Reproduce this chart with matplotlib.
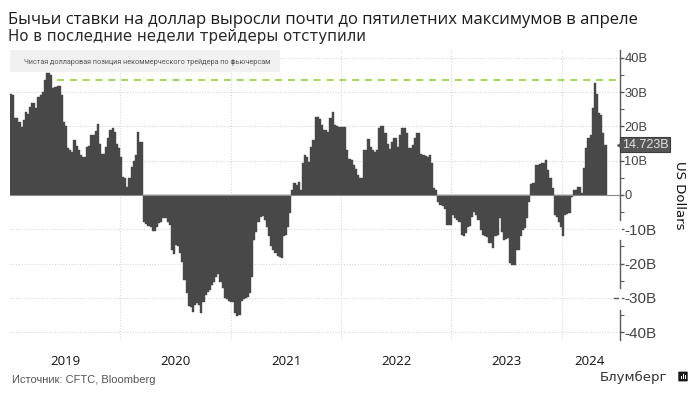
import matplotlib
matplotlib.use("Agg")
import matplotlib.pyplot as plt
import matplotlib.dates as mdates
import matplotlib.patches as patches
import pandas as pd

title = "Бычьи ставки на доллар выросли почти до пятилетних максимумов в апреле"
subtitle = "Но в последние недели трейдеры отступили"
legend_text = "Чистая долларовая позиция некоммерческого трейдера по фьючерсам"
source = "Источник: CFTC, Bloomberg"

# weekly net position, bn USD
pos_2019 = [29.6, 29.2, 22.5, 22.4, 21.4, 19.7, 21.9, 24.3, 23.6, 25.8, 26.7, 26.7, 25.3, 28.7, 29.2, 30.1,
            33.5, 35.5, 35.5, 35.0, 31.1, 31.6, 31.9, 31.9, 29.2, 21.4, 20.1, 13.6, 13.1, 12.6, 16.0, 14.3,
            13.1, 11.7, 11.2, 11.2, 13.9, 14.3, 17.5, 17.5, 18.8, 20.7, 14.9, 12.1, 12.1, 14.1, 16.5, 19.0,
            19.4, 18.5, 15.0, 13.6, 11.2, 5.3, 4.9, 2.4, 4.9, 8.3, 10.0, 11.7, 18.5, 15.5, 15.5]
neg_2020 = [-7.8, -8.6, -8.9, -9.4, -10.5, -10.4, -9.2, -8.3, -8.0, -6.8, -6.8, -7.8, -8.7, -16.0, -17.2,
            -14.6, -15.0, -17.0, -19.6, -24.8, -28.7, -32.3, -32.6, -34.2, -32.0, -31.6, -32.0, -34.3, -31.1,
            -29.3, -28.2, -27.7, -26.2, -25.3, -24.0, -23.1, -25.3, -27.2, -30.1, -30.4, -30.8, -31.1, -31.1,
            -34.5, -35.3, -35.0, -30.8, -30.4, -30.1, -29.9, -28.7, -23.8, -13.1, -10.7, -8.0, -6.3, -6.1,
            -7.3, -9.2, -12.1, -15.0, -16.0, -17.0, -17.7, -18.0, -18.5, -12.1, -11.7, -9.2, -5.3]
pos_2021 = [1.5, 3.4, 2.9, 3.7, 1.5, 9.2, 11.7, 11.2, 9.7, 14.1, 16.0, 22.8, 22.8, 22.2, 20.4, 19.1, 19.0,
            18.5, 22.4, 24.3, 20.4, 20.1, 19.9, 19.7, 19.9, 19.9, 13.1, 10.4, 10.2, 8.7, 7.5, 5.8, 5.1, 4.9,
            13.1, 13.1, 16.2, 14.1, 13.1, 12.6, 13.1, 19.4, 20.1, 20.1, 18.0, 15.0, 13.3, 15.5, 16.5, 16.5,
            14.1, 17.5, 19.4, 19.4, 18.0, 13.6, 13.6, 14.6, 16.5, 18.0, 18.0, 12.1, 11.7, 11.4, 11.0, 11.7,
            9.2, 1.9, 1.5]
neg_2022 = [-1.9, -2.9, -3.2, -4.2, -8.7, -8.7, -8.7, -5.8, -6.6, -7.3, -7.8, -11.7, -12.1, -11.2, -9.2, -9.0,
            -6.3, -4.9, -5.8, -7.3, -10.2, -11.7, -12.1, -12.3, -14.1, -14.1, -15.4, -12.0, -11.7, -6.8, -10.7,
            -13.1, -12.9, -12.6, -19.9, -20.4, -20.4, -16.0, -16.0, -12.1, -10.2, -9.7, -6.8, -1.9]
recent = [3.1, 3.4, 8.7, 8.7, 9.0, 9.2, 9.2, 10.2, 7.3, 4.9, 1.9, -5.8, -6.3, -7.8, -9.2, -12.0, -5.8, -5.5, -5.3,
          -0.5, 1.5, 1.5, 2.3, 2.4, 0.5, 7.8, 13.6, 16.5, 17.5, 25.3, 32.6, 29.6, 23.8, 23.3, 18.0, 14.723]
values = pos_2019 + neg_2020 + pos_2021 + neg_2022 + recent
weeks = pd.date_range("2019-01-01", periods=len(values), freq="7D")

peak = 33.5
last_value = 14.723
year_starts = ["2020-01-01", "2021-01-01", "2022-01-01", "2023-01-01", "2024-01-01"]
year_mids = ["2019-07-03", "2020-07-03", "2021-07-03", "2022-07-03", "2023-07-03", "2024-04-03"]
year_labels = ["2019", "2020", "2021", "2022", "2023", "2024"]
y_ticks = [40, 30, 20, 10, 0, -10, -20, -30, -40]
y_tick_labels = ["40B", "30B", "20B", "10B", "0", "-10B", "-20B", "-30B", "-40B"]
y_minor = [35, 25, 15, 5, -5, -15, -25, -35]

W, H = 695, 396
dark = "#484848"
grey = "#5a5a5a"

fig = plt.figure(figsize=(W / 100, H / 100), dpi=100)
ax = fig.add_axes([10 / W, 1 - 340 / H, 609.5 / W, 290 / H])

# thin edge so neighbouring bars close up into one solid shape
ax.bar(weeks, values, width=7, align="edge", color=dark, edgecolor=dark, linewidth=0.3, zorder=3)
ax.axhline(0, color="#8a8a8a", lw=0.8, zorder=4)
ax.set_xlim(pd.Timestamp("2019-01-01"), pd.Timestamp("2024-07-10"))
ax.set_ylim(-42.3, 42.3)

for s in ["top", "left", "bottom"]:
    ax.spines[s].set_visible(False)
ax.spines["right"].set_color(grey)
ax.spines["right"].set_linewidth(1)

# grid
ax.grid(False)
for d in year_starts:
    ax.axvline(pd.Timestamp(d), color="#d8d8d8", lw=0.8, ls=(0, (1, 1.5)), zorder=1)
for v in y_ticks:
    if v != 0:
        ax.axhline(v, color="#d8d8d8", lw=0.8, ls=(0, (1, 1.5)), zorder=1)

# peak line
ax.plot([pd.Timestamp("2019-06-05"), pd.Timestamp("2024-07-05")], [peak, peak], color="#a6d55a", lw=1.4,
        ls=(0, (3.6, 3)), zorder=5)

# x labels
ax.xaxis.set_major_locator(mdates.YearLocator())
ax.set_xticks([pd.Timestamp(d) for d in year_mids])
ax.set_xticklabels(year_labels, fontsize=9.5, family="Open Sans", color="#111111")
ax.tick_params(axis="x", length=0, pad=11)

# y labels
ax.yaxis.tick_right()
ax.set_yticks(y_ticks)
ax.set_yticklabels(y_tick_labels, family="Liberation Sans", color="#444444")
ax.set_yticks(y_minor, minor=True)
ax.tick_params(axis="y", which="major", length=3, width=1, color=grey, pad=0.5)
ax.tick_params(axis="y", which="minor", length=3, width=0.8, color=grey)
for lab, v in zip(ax.get_yticklabels(), y_ticks):
    lab.set_fontsize(11 if v < 0 else 9.3)

# gaps in the axis behind the -10B and -30B labels
tr = ax.get_yaxis_transform()
ax.plot([1, 1], [-7.9, -12.5], transform=tr, color="white", lw=2, clip_on=False, zorder=6)
ax.plot([1, 1], [-27.7, -33], transform=tr, color="white", lw=2, clip_on=False, zorder=6)
ax.plot([0.991, 0.998], [-30, -30], transform=tr, color=grey, lw=1, clip_on=False, zorder=6)

# last value tag
ax.text(1.004, last_value, "14.723B", transform=tr, fontsize=9, family="Liberation Sans", color="#e4e4e4",
        va="center", ha="left", zorder=8,
        bbox=dict(boxstyle="square,pad=0.15", facecolor="#565656", edgecolor="#3c3c3c", lw=0.8))
ax.plot([1.001], [last_value], transform=tr, marker="<", ms=5, color="#565656", clip_on=False, zorder=8)

# legend strip
fig.patches.append(patches.Rectangle((10 / W, 1 - 72 / H), 270 / W, 22 / H, transform=fig.transFigure,
                                     facecolor="#f1f1f1", edgecolor="none", zorder=0))
ax.add_patch(patches.Rectangle((16 / W, 1 - 65 / H), 7 / W, 6 / H, transform=fig.transFigure, facecolor=dark,
                               edgecolor="none", clip_on=False, zorder=7))
fig.text(23.5 / W, 1 - 62 / H, legend_text, fontsize=5.2, family="Roboto", color="#555555", va="center")

# header and footer text
fig.text(8 / W, 1 - 20 / H, title, fontsize=11.95, family="Open Sans", color="#1a1a1a", va="center")
fig.text(8 / W, 1 - 37 / H, subtitle, fontsize=10.8, family="DejaVu Sans", color="#2a2a2a", va="center")
fig.text(12 / W, 1 - 380 / H, source, fontsize=8, family="Liberation Sans", color="#555555", va="center")
fig.text(600 / W, 1 - 377.5 / H, "Блумберг", fontsize=9.5, family="DejaVu Sans", color="#333333", va="center")
fig.text(680 / W, 1 - 195 / H, "US Dollars", fontsize=9.5, family="DejaVu Sans", color="#111111", va="center",
         ha="center", rotation=-90)

# bloomberg icon
fig.patches.append(patches.FancyBboxPatch((679 / W, 1 - 381 / H), 8 / W, 9 / H, transform=fig.transFigure,
                                          boxstyle="round,pad=0.001", facecolor="#1a1a1a", edgecolor="none"))
for bx, bh in zip([681, 683, 685], [3, 5, 4]):
    fig.patches.append(patches.Rectangle((bx / W, 1 - 379 / H), 1 / W, bh / H, transform=fig.transFigure,
                                         facecolor="white", edgecolor="none", zorder=3))

fig.savefig("out.png", dpi=100, facecolor="white")
